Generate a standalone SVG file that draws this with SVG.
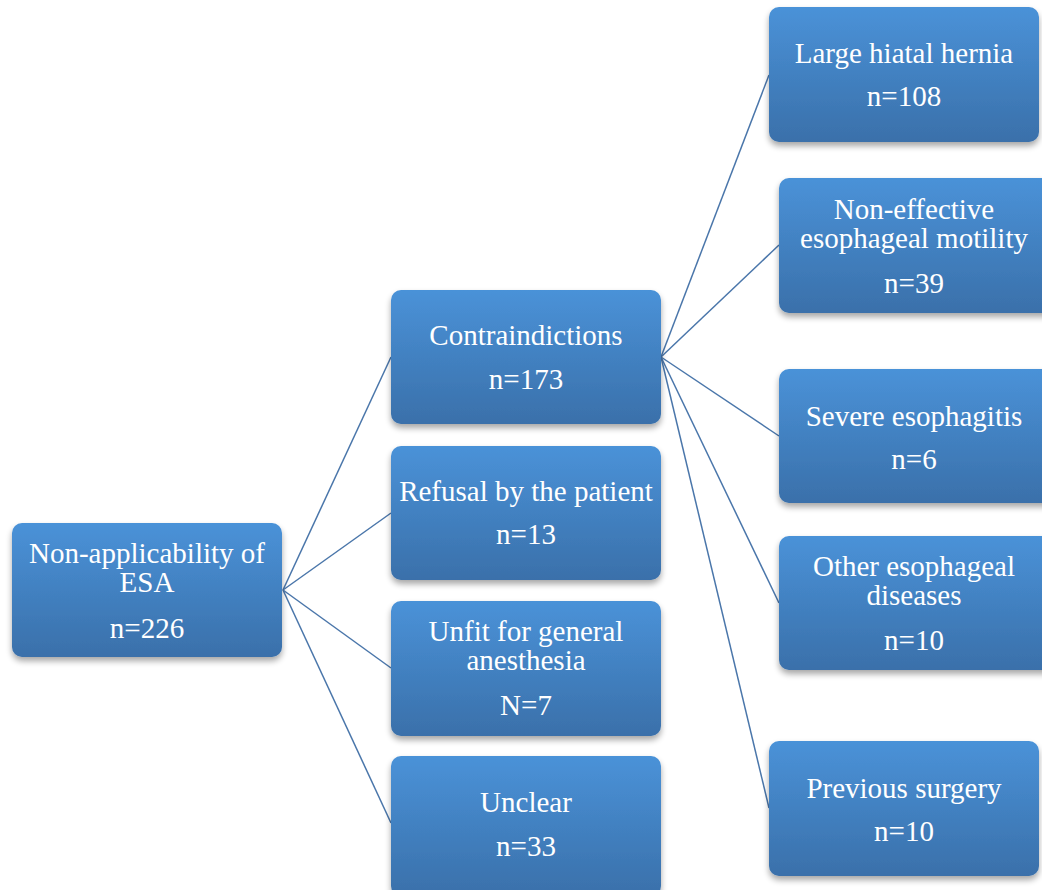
<svg xmlns="http://www.w3.org/2000/svg" width="1042" height="890" viewBox="0 0 1042 890">
<defs>
<linearGradient id="g" x1="0" y1="0" x2="0" y2="1">
<stop offset="0" stop-color="#4a92d8"/>
<stop offset="1" stop-color="#3a70aa"/>
</linearGradient>
<filter id="sh" x="-10%" y="-10%" width="120%" height="130%">
<feGaussianBlur in="SourceAlpha" stdDeviation="3"/>
<feOffset dx="0" dy="4" result="b"/>
<feComponentTransfer><feFuncA type="linear" slope="0.35"/></feComponentTransfer>
<feMerge><feMergeNode/><feMergeNode in="SourceGraphic"/></feMerge>
</filter>
</defs>
<style>
.box{fill:url(#g);filter:url(#sh);}
.c{stroke:#4a76aa;stroke-width:1.5;fill:none;}
</style>
<rect width="1042" height="890" fill="#ffffff"/>
<g id="connectors">
<line class="c" x1="283" y1="590" x2="391" y2="357"/>
<line class="c" x1="283" y1="590" x2="391" y2="513"/>
<line class="c" x1="283" y1="590" x2="391" y2="668"/>
<line class="c" x1="283" y1="590" x2="391" y2="823"/>
<line class="c" x1="661" y1="357" x2="769" y2="75"/>
<line class="c" x1="661" y1="357" x2="779" y2="245"/>
<line class="c" x1="661" y1="357" x2="779" y2="436"/>
<line class="c" x1="661" y1="357" x2="779" y2="603"/>
<line class="c" x1="661" y1="357" x2="769" y2="808"/>
</g>
<g font-family="'Liberation Serif', 'Times New Roman', serif" font-size="29" fill="#ffffff" text-anchor="middle">
<g id="root">
<rect class="box" x="12" y="523" width="270" height="134" rx="10"/>
<text x="147" y="563">Non-applicability of</text>
<text x="147" y="592">ESA</text>
<text x="147" y="638">n=226</text>
</g>
<g id="contra">
<rect class="box" x="391" y="290" width="270" height="134" rx="10"/>
<text x="526" y="345">Contraindictions</text>
<text x="526" y="389">n=173</text>
</g>
<g id="refusal">
<rect class="box" x="391" y="446" width="270" height="134" rx="10"/>
<text x="526" y="501">Refusal by the patient</text>
<text x="526" y="544">n=13</text>
</g>
<g id="unfit">
<rect class="box" x="391" y="601" width="270" height="135" rx="10"/>
<text x="526" y="641">Unfit for general</text>
<text x="526" y="670">anesthesia</text>
<text x="526" y="715">N=7</text>
</g>
<g id="unclear">
<rect class="box" x="391" y="756" width="270" height="140" rx="10"/>
<text x="526" y="812">Unclear</text>
<text x="526" y="856">n=33</text>
</g>
<g id="hernia">
<rect class="box" x="769" y="7" width="270" height="135" rx="10"/>
<text x="904" y="63">Large hiatal hernia</text>
<text x="904" y="106">n=108</text>
</g>
<g id="motility">
<rect class="box" x="779" y="178" width="280" height="135" rx="10"/>
<text x="914" y="219">Non-effective</text>
<text x="914" y="248">esophageal motility</text>
<text x="914" y="293">n=39</text>
</g>
<g id="esophagitis">
<rect class="box" x="779" y="369" width="280" height="134" rx="10"/>
<text x="914" y="426">Severe esophagitis</text>
<text x="914" y="469">n=6</text>
</g>
<g id="other">
<rect class="box" x="779" y="536" width="280" height="134" rx="10"/>
<text x="914" y="576">Other esophageal</text>
<text x="914" y="605">diseases</text>
<text x="914" y="650">n=10</text>
</g>
<g id="surgery">
<rect class="box" x="769" y="741" width="270" height="135" rx="10"/>
<text x="904" y="798">Previous surgery</text>
<text x="904" y="841">n=10</text>
</g>
</g>
</svg>
